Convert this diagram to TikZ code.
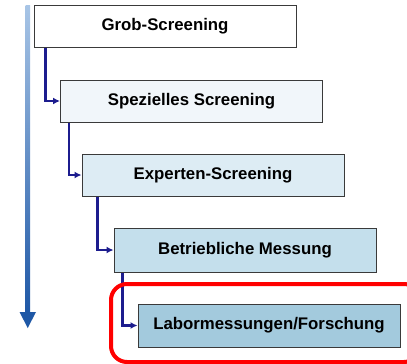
\documentclass[tikz,border=0pt]{standalone}
\usepackage{fontspec}
\setmainfont{Liberation Sans}
\usetikzlibrary{arrows.meta}
\definecolor{boxline}{HTML}{3A3A3A}
\definecolor{fillB}{HTML}{F1F6FA}
\definecolor{fillC}{HTML}{DDECF4}
\definecolor{fillD}{HTML}{C4DFEC}
\definecolor{fillE}{HTML}{A3CADD}
\definecolor{connblue}{HTML}{1C1C8E}
\definecolor{bartop}{HTML}{A8C5E6}
\definecolor{barbot}{HTML}{1F58A6}
\definecolor{hilite}{HTML}{FF0000}
\tikzset{
  stage/.style={draw=boxline, line width=1pt, minimum width=262pt, minimum height=42pt,
    inner sep=0pt, font=\fontsize{16.8}{18}\selectfont\bfseries, text=black},
  conn/.style={draw=connblue, line width=2.2pt, -{Latex[length=7pt,width=7pt]}},
}
\begin{document}
\begin{tikzpicture}[x=1pt,y=-1pt]
\useasboundingbox (0,0) rectangle (407,364);

% shaded progress arrow on the left
\shade[top color=bartop, bottom color=barbot] (25.5,5) rectangle (30,312);
\fill[barbot] (19.5,312) -- (36,312) -- (27.75,328) -- cycle;

% stages
\node[stage, fill=white] (b1) at (165,26) {Grob-Screening};
\node[stage, fill=fillB] (b2) at (191.5,101) {Spezielles Screening};
\node[stage, fill=fillC] (b3) at (213,175) {Experten-Screening};
\node[stage, fill=fillD, minimum height=44pt] (b4) at (245,250) {Betriebliche Messung};
\node[stage, fill=fillE, minimum height=43pt] (b5) at (269,325.5) {Labormessungen/Forschung};

% step connectors
\draw[conn] ([xshift=12pt]b1.south west) |- (b2.west);
\draw[conn] ([xshift=9pt]b2.south west) |- (b3.west);
\draw[conn] ([xshift=16pt]b3.south west) |- (b4.west);
\draw[conn] ([xshift=9pt]b4.south west) |- (b5.west);

% highlight frame around the last stage
\draw[hilite, line width=4pt, rounded corners=16pt] (111,284) rectangle (420,362);
\end{tikzpicture}
\end{document}
